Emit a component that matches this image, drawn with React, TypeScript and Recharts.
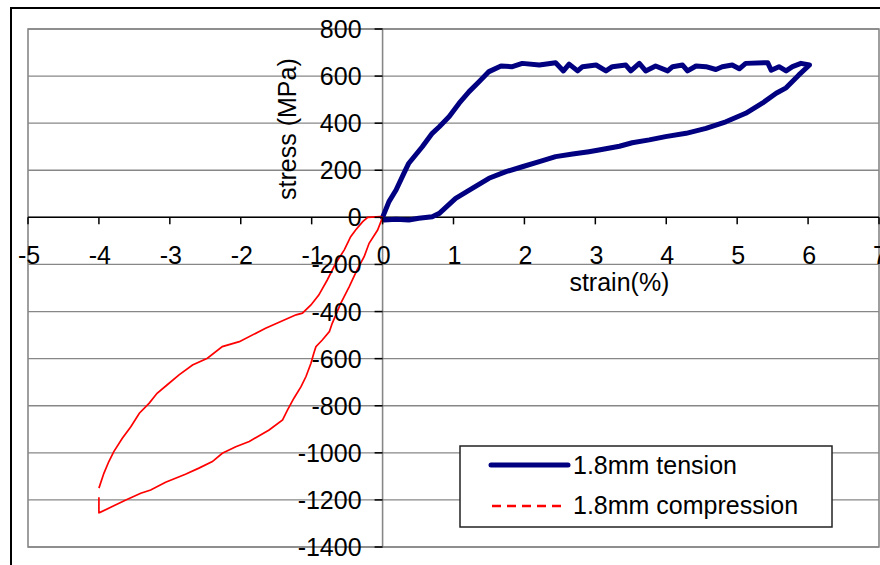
import React from 'react';
import {
  LineChart,
  Line,
  XAxis,
  YAxis,
  CartesianGrid,
  ReferenceLine,
  ReferenceArea,
  ReferenceDot,
} from 'recharts';

// tension loop (strain %, stress MPa), in drawing order
const tensionStrain = [
  0, 0.09, 0.19, 0.3, 0.37, 0.56, 0.7, 0.8, 0.94, 1.08, 1.22, 1.36, 1.5, 1.67, 1.83, 1.97,
  2.21, 2.44, 2.55, 2.63, 2.75, 2.82, 3.01, 3.15, 3.24, 3.43, 3.5, 3.62, 3.71, 3.85, 4.02,
  4.09, 4.23, 4.3, 4.42, 4.56, 4.7, 4.79, 4.93, 5.03, 5.12, 5.43, 5.48, 5.59, 5.69, 5.78,
  5.9, 6.02,
  5.87, 5.69, 5.55, 5.36, 5.12, 4.84, 4.56, 4.28, 3.99, 3.76, 3.52, 3.34, 3.05, 2.91, 2.68,
  2.44, 2.21, 1.97, 1.74, 1.5, 1.27, 1.03, 0.8, 0.7, 0.51, 0.37, 0.19, 0.02,
];
const tensionStress = [
  0, 67, 116, 187, 230, 300, 357, 385, 428, 485, 534, 576, 619, 643, 640, 654,
  647, 657, 622, 651, 622, 640, 647, 622, 640, 647, 622, 654, 622, 643, 622,
  640, 647, 622, 643, 640, 628, 640, 647, 631, 654, 657, 625, 640, 622, 640,
  654, 647,
  605, 550, 527, 486, 442, 406, 378, 357, 343, 329, 317, 302, 286, 279, 269,
  258, 237, 215, 194, 166, 124, 81, 17, 3, -4, -11, -8, -11,
];

// compression loop, null marks the small break at strain -4
const compressionStrain = [
  0, -0.07, -0.19, -0.26, -0.36, -0.47, -0.59, -0.71, -0.75, -0.85, -0.94, -0.97, -1.01,
  -1.08, -1.15, -1.25, -1.34, -1.41, -1.6, -1.88, -2.07, -2.26, -2.4, -2.59, -2.78, -3.06,
  -3.27, -3.41, -3.62, -3.79, -3.99, -4.0, -4.0, -4.0,
  -4.0, -3.93, -3.86, -3.79, -3.67, -3.55, -3.43, -3.29, -3.18, -3.04, -2.87, -2.68, -2.47,
  -2.26, -2.02, -1.65, -1.22, -1.13, -1.01, -0.9, -0.78, -0.66, -0.54, -0.45, -0.38, -0.28,
  -0.21, -0.03, 0,
];
const compressionStress = [
  0, -54, -110, -167, -223, -294, -365, -450, -485, -521, -549, -577, -620,
  -676, -719, -768, -818, -860, -903, -952, -974, -1002, -1037, -1065, -1091, -1125,
  -1158, -1172, -1200, -1225, -1254, -1254, -1189, null,
  -1150, -1087, -1037, -995, -938, -889, -832, -789, -747, -712, -669, -627, -598,
  -549, -528, -471, -414, -407, -372, -330, -266, -195, -138, -82, -54, -18,
  0, 3, 0,
];

const xTicks = [-5, -4, -3, -2, -1, 0, 1, 2, 3, 4, 5, 6, 7];
const yTicks = [-1400, -1200, -1000, -800, -600, -400, -200, 0, 200, 400, 600, 800];

const tension = tensionStrain.map((x, i) => ({ x, y: tensionStress[i] }));
const compression = compressionStrain.map((x, i) => ({ x, y: compressionStress[i] }));

const font = '"Liberation Sans", Arial, sans-serif';
const fs = 25;
const gridColor = '#878787';

export default function App() {
  return (
    <div style={{ position: 'absolute', left: 0, top: 0, width: 880, height: 565, background: '#fff', overflow: 'hidden', fontFamily: font }}>
      <div style={{ position: 'absolute', left: 10, top: 7, width: 900, height: 600, borderLeft: '2px solid #000', borderTop: '2px solid #000' }} />
      <LineChart
        width={880}
        height={565}
        margin={{ top: 29, right: 1, bottom: 18, left: 28 }}
        style={{ position: 'absolute', left: 0, top: 0 }}
      >
        <XAxis type="number" dataKey="x" domain={[-5, 7]} ticks={xTicks} hide allowDataOverflow />
        <YAxis type="number" dataKey="y" domain={[-1400, 800]} ticks={yTicks} hide allowDataOverflow />
        <CartesianGrid vertical={false} stroke={gridColor} strokeWidth={1.3} />
        <ReferenceArea x1={-5} x2={7} y1={-1400} y2={800} fill="none" stroke={gridColor} strokeWidth={1.6} />
        <ReferenceLine x={0} stroke={gridColor} strokeWidth={1.6} />
        <ReferenceLine y={0} stroke="#000" strokeWidth={1.5} />
        <Line
          data={tension}
          dataKey="y"
          stroke="#000080"
          strokeWidth={5}
          strokeLinejoin="round"
          strokeLinecap="round"
          dot={false}
          isAnimationActive={false}
        />
        <Line
          data={compression}
          dataKey="y"
          stroke="#ff0000"
          strokeWidth={1.7}
          dot={false}
          isAnimationActive={false}
        />
        {xTicks.map((t) => (
          <ReferenceDot
            key={'xt' + t}
            x={t}
            y={0}
            r={0}
            shape={(p: any) => (
              <g>
                <line x1={p.cx} y1={p.cy} x2={p.cx} y2={p.cy + 7} stroke="#000" strokeWidth={1.5} />
                <text x={p.cx + 1} y={p.cy + 38} textAnchor="middle" dominantBaseline="central" fontSize={fs} fontFamily={font} fill="#000">
                  {t}
                </text>
              </g>
            )}
          />
        ))}
        {yTicks.map((t) => (
          <ReferenceDot
            key={'yt' + t}
            x={0}
            y={t}
            r={0}
            shape={(p: any) => (
              <g>
                <line x1={p.cx - 8} y1={p.cy} x2={p.cx} y2={p.cy} stroke="#000" strokeWidth={1.5} />
                <text x={p.cx - 21} y={p.cy} textAnchor="end" dominantBaseline="central" fontSize={fs} fontFamily={font} fill="#000">
                  {t}
                </text>
              </g>
            )}
          />
        ))}
        <ReferenceDot
          x={-1.35}
          y={375}
          r={0}
          shape={(p: any) => (
            <text
              x={p.cx}
              y={p.cy}
              transform={`rotate(-90 ${p.cx} ${p.cy})`}
              textAnchor="middle"
              dominantBaseline="central"
              fontSize={fs}
              fontFamily={font}
              fill="#000"
            >
              stress (MPa)
            </text>
          )}
        />
        <ReferenceDot
          x={3.34}
          y={-273}
          r={0}
          shape={(p: any) => (
            <text x={p.cx} y={p.cy} textAnchor="middle" dominantBaseline="central" fontSize={fs} fontFamily={font} fill="#000">
              strain(%)
            </text>
          )}
        />
      </LineChart>
      <svg width={374} height={83} style={{ position: 'absolute', left: 459, top: 445 }}>
        <rect x={1} y={1} width={372} height={81} fill="#fff" stroke="#222" strokeWidth={1.5} />
        <line x1={32} y1={20} x2={109} y2={20} stroke="#000080" strokeWidth={5} strokeLinecap="round" />
        <text x={114} y={20} dominantBaseline="central" fontSize={fs} fontFamily={font} fill="#000">1.8mm tension</text>
        <line x1={33} y1={61} x2={108} y2={61} stroke="#ff0000" strokeWidth={2.5} strokeDasharray="9 6" />
        <text x={114} y={60} dominantBaseline="central" fontSize={fs} fontFamily={font} fill="#000">1.8mm compression</text>
      </svg>
    </div>
  );
}
